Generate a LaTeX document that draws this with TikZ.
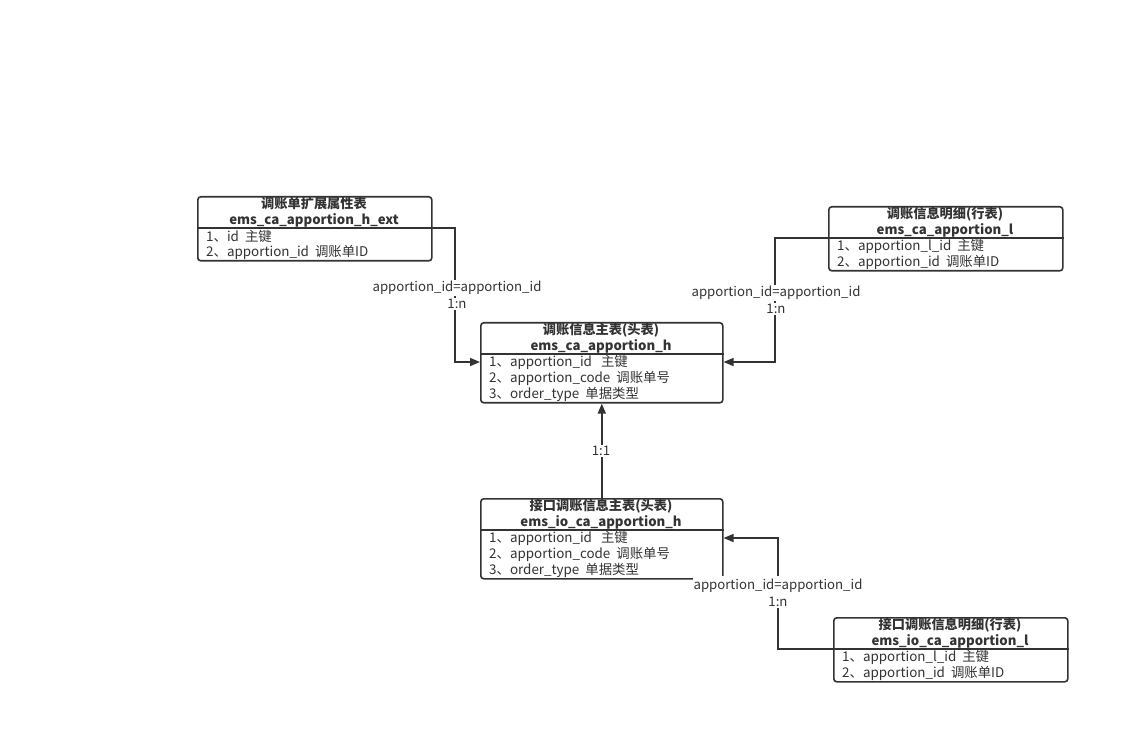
\documentclass[tikz,border=0pt]{standalone}
\usepackage{fontspec}
\setmainfont{Noto Sans CJK SC}
\usetikzlibrary{arrows.meta}
\definecolor{ink}{HTML}{333333}
\begin{document}
\begin{tikzpicture}[x=1pt,y=-1pt,
  box/.style={draw=ink,line width=1.6pt,rounded corners=3pt,anchor=north west,inner sep=0pt},
  divline/.style={draw=ink,line width=1.6pt},
  ttl/.style={text=ink,font=\fontsize{13.2}{14}\selectfont\bfseries,inner sep=0pt,anchor=center},
  row/.style={text=ink,font=\fontsize{13.4}{14}\selectfont,inner sep=0pt,anchor=west},
  conn/.style={draw=ink,line width=1.6pt,-{Triangle[length=10pt,width=8pt]}},
  lbl/.style={text=ink,font=\fontsize{13.2}{14}\selectfont,fill=white,inner xsep=0.5pt,inner ysep=1pt,anchor=center}]
\useasboundingbox[fill=white] (0,0) rectangle (1128,743);

% Box A
\node[box,minimum width=234,minimum height=64] (A) at (197,196) {};
\node[ttl] (At1) at (314,204) {调账单扩展属性表};
\node[ttl] (At2) at (314,220) {ems\_ca\_apportion\_h\_ext};
\node[row] (Ar1) at (206,236) {1、id\ \ 主键};
\node[row] (Ar2) at (206,252) {2、apportion\_id\ \ 调账单ID};

% Box B
\node[box,minimum width=234,minimum height=64] (B) at (828,206) {};
\node[ttl] (Bt1) at (945,214) {调账信息明细(行表)};
\node[ttl] (Bt2) at (945,230) {ems\_ca\_apportion\_l};
\node[row] (Br1) at (837,246) {1、apportion\_l\_id\ \ 主键};
\node[row] (Br2) at (837,262) {2、apportion\_id\ \ 调账单ID};

% Box C
\node[box,minimum width=242,minimum height=80] (C) at (480,322) {};
\node[ttl] (Ct1) at (601,330) {调账信息主表(头表)};
\node[ttl] (Ct2) at (601,346) {ems\_ca\_apportion\_h};
\node[row] (Cr1) at (489,362) {1、apportion\_id\ \ \ 主键};
\node[row] (Cr2) at (489,378) {2、apportion\_code\ \ 调账单号};
\node[row] (Cr3) at (489,394) {3、order\_type\ \ 单据类型};

% Box D
\node[box,minimum width=242,minimum height=80] (D) at (480,498) {};
\node[ttl] (Dt1) at (601,506) {接口调账信息主表(头表)};
\node[ttl] (Dt2) at (601,522) {ems\_io\_ca\_apportion\_h};
\node[row] (Dr1) at (489,538) {1、apportion\_id\ \ \ 主键};
\node[row] (Dr2) at (489,554) {2、apportion\_code\ \ 调账单号};
\node[row] (Dr3) at (489,570) {3、order\_type\ \ 单据类型};

% Box E
\node[box,minimum width=234,minimum height=64] (E) at (833,617) {};
\node[ttl] (Et1) at (950,625) {接口调账信息明细(行表)};
\node[ttl] (Et2) at (950,641) {ems\_io\_ca\_apportion\_l};
\node[row] (Er1) at (842,657) {1、apportion\_l\_id\ \ 主键};
\node[row] (Er2) at (842,673) {2、apportion\_id\ \ 调账单ID};

% dividers
\draw[divline] (A.west |- 0,228) -- (A.east |- 0,228);
\draw[divline] (B.west |- 0,238) -- (B.east |- 0,238);
\draw[divline] (C.west |- 0,354) -- (C.east |- 0,354);
\draw[divline] (D.west |- 0,530) -- (D.east |- 0,530);
\draw[divline] (E.west |- 0,649) -- (E.east |- 0,649);

% connectors
\coordinate (k1) at (455,228);
\coordinate (k2) at (455,362);
\draw[conn] (A.east |- k1) -- (k1) -- (k2) -- (C.west |- k2);
\node[lbl] (L1a) at (457,288) {apportion\_id=apportion\_id};
\node[lbl] (L1b) at (457,304) {1:n};

\coordinate (m1) at (775,238);
\coordinate (m2) at (775,362);
\draw[conn] (B.west |- m1) -- (m1) -- (m2) -- (C.east |- m2);
\node[lbl] (L2a) at (776,293) {apportion\_id=apportion\_id};
\node[lbl] (L2b) at (776,309) {1:n};

\draw[conn] (D.north) -- (C.south);
\node[lbl] (L3) at (601,451) {1:1};

\coordinate (n1) at (778,649);
\coordinate (n2) at (778,538);
\draw[conn] (E.west |- n1) -- (n1) -- (n2) -- (D.east |- n2);
\node[lbl,inner ysep=3pt] (L4a) at (778,586) {apportion\_id=apportion\_id};
\node[lbl] (L4b) at (778,602) {1:n};
\end{tikzpicture}
\end{document}
